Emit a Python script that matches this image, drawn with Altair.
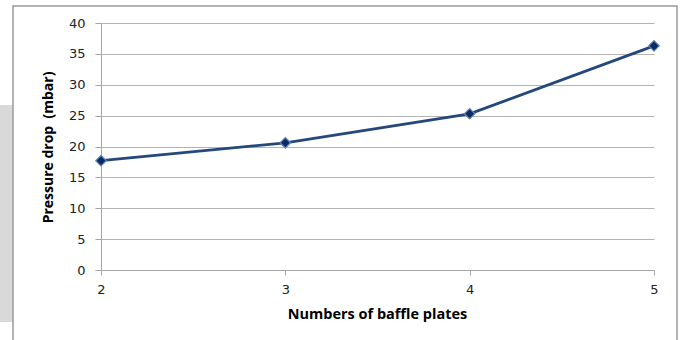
import altair as alt
import pandas as pd

# Pressure drop measured for each baffle-plate count
plates = [2, 3, 4, 5]
pressure_drop = [17.7, 20.6, 25.3, 36.3]
y_ticks = [0, 5, 10, 15, 20, 25, 30, 35, 40]

df = pd.DataFrame({"plates": plates, "dp": pressure_drop})

axis_gray = "#a6a6a6"
line_blue = "#24487c"

x = alt.X(
    "plates:Q",
    scale=alt.Scale(domain=[2, 5], nice=False, zero=False),
    axis=alt.Axis(
        values=plates, format="d", title="Numbers of baffle plates",
        grid=False, tickSize=5, labelPadding=8, labelFlush=False,
        titleX=276, titleY=44, titleBaseline="middle",
        titleFont="Open Sans", titleFontSize=14.5, titleFontWeight="bold",
    ),
)
y = alt.Y(
    "dp:Q",
    scale=alt.Scale(domain=[0, 40], nice=False),
    axis=alt.Axis(
        values=y_ticks, title="Pressure drop\u00a0 (mbar)",
        tickSize=6, labelPadding=10, labelFlush=False,
        titleX=-53, titleY=124, titleAngle=-90, titleAlign="center",
        titleBaseline="middle",
        titleFont="Open Sans", titleFontSize=14, titleFontWeight="bold",
    ),
)

# decorative page frame and the grey tab behind it
backdrop = alt.Chart(pd.DataFrame({"k": [0]})).mark_rect(
    fill="#d9d9d9", stroke=None
).encode(x=alt.value(-101), x2=alt.value(-88), y=alt.value(82), y2=alt.value(299))

frame = alt.Chart(pd.DataFrame({"k": [0]})).mark_rect(
    fill="white", fillOpacity=0, stroke="#9a9a9a", strokeWidth=1.5
).encode(x=alt.value(-88), x2=alt.value(576), y=alt.value(-17), y2=alt.value(330))

line = alt.Chart(df).mark_line(color=line_blue, strokeWidth=2.8).encode(x=x, y=y)
points = alt.Chart(df).mark_point(
    shape="diamond", filled=True, size=110, color="#0d2a5e",
    stroke="#5b86c0", strokeWidth=1.2, opacity=1,
).encode(x=x, y=y)

chart = alt.layer(backdrop, frame, line, points).properties(
    width=553, height=247,
    autosize=alt.AutoSizeParams(type="none"),
    padding={"left": 101, "top": 23, "right": 29, "bottom": 70},
).configure_view(stroke=None).configure_axis(
    domainColor=axis_gray, tickColor=axis_gray, gridColor="#b5b5b5",
    labelFont="DejaVu Sans", labelFontSize=13, labelColor="#222222",
    titleColor="#000000",
)

chart.save("out.html", embed_options={"renderer": "svg", "actions": False})
